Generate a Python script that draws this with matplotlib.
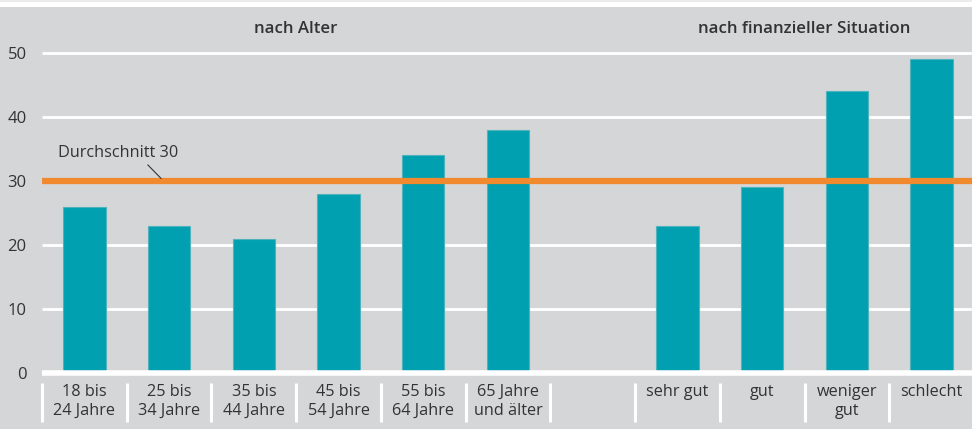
import matplotlib
matplotlib.use("Agg")
import matplotlib.pyplot as plt
from matplotlib.patches import Rectangle

plt.rcParams['font.family'] = ['Open Sans', 'DejaVu Sans']

categories = ["18 bis\n24 Jahre", "25 bis\n34 Jahre", "35 bis\n44 Jahre", "45 bis\n54 Jahre",
              "55 bis\n64 Jahre", "65 Jahre\nund älter", "",
              "sehr gut", "gut", "weniger\ngut", "schlecht"]
values = [26, 23, 21, 28, 34, 38, None, 23, 29, 44, 49]
average = 30
average_label = "Durchschnitt 30"
group_titles = ["nach Alter", "nach finanzieller Situation"]
yticks = [0, 10, 20, 30, 40, 50]

BG = "#d5d6d8"
BAR = "#00a0b0"
ORANGE = "#f18a2f"
TXT = "#333333"

W, H = 972, 429
fig = plt.figure(figsize=(W / 100, H / 100), dpi=100)
fig.patch.set_facecolor(BG)
fig.patches.append(Rectangle((0, 1 - 7 / H), 1, 7 / H, transform=fig.transFigure,
                             facecolor="white", edgecolor="none", zorder=0))
fig.patches.append(Rectangle((0, 1 - 2 / H), 1, 2 / H, transform=fig.transFigure,
                             facecolor="#ebebeb", edgecolor="none", zorder=0))

left_px, right_px = 42, 974
top_px, bot_px = 53, 373
ax = fig.add_axes([left_px / W, 1 - bot_px / H, (right_px - left_px) / W, (bot_px - top_px) / H])
ax.set_facecolor(BG)
ax.patch.set_alpha(0)
for s in ax.spines.values():
    s.set_visible(False)

n = len(categories)
ax.set_xlim(-0.5, n - 0.5)
ax.set_ylim(0, 50)

# grid lines
for yv in yticks[1:]:
    ax.axhline(yv, color="white", lw=2, zorder=1, clip_on=False, solid_capstyle="butt")

xs = [i for i, v in enumerate(values) if v is not None]
vs = [v for v in values if v is not None]
ax.bar(xs, vs, width=0.5, color=BAR, edgecolor="#4fb3bd", linewidth=0.8, zorder=2)

ax.axhline(0, color="white", lw=4, zorder=3, clip_on=False, solid_capstyle="butt")
ax.axhline(average, color=ORANGE, lw=4.5, zorder=3, clip_on=False, solid_capstyle="butt")

# annotation
ax.text(-0.31, 34.4, average_label, fontsize=11.7, color=TXT, va="center", ha="left", zorder=4)
ax.plot([0.75, 0.905], [32.5, 30.4], color=TXT, lw=0.8, zorder=4)

# y ticks
ax.set_yticks(yticks)
ax.set_yticklabels([str(t) for t in yticks], fontsize=12, color=TXT)
ax.tick_params(axis="y", length=0, pad=11)

# x ticks
ax.set_xticks(range(n))
ax.set_xticklabels(categories, fontsize=11.7, color=TXT, linespacing=1.22, va="top")
ax.tick_params(axis="x", length=0, pad=8)

# separators
for i in range(n):
    ax.plot([i - 0.5, i - 0.5], [-1.6, -7.6], color="white", lw=2.2, clip_on=False, zorder=1,
            solid_capstyle="butt")

# group titles
ax.text((0 + 5) / 2, 53.8, group_titles[0], ha="center", va="center", fontsize=12.2,
        color=TXT, fontweight="semibold")
ax.text((7 + 10) / 2, 53.8, group_titles[1], ha="center", va="center", fontsize=12.2,
        color=TXT, fontweight="semibold")

fig.savefig("out.png", dpi=100, facecolor=fig.get_facecolor())
